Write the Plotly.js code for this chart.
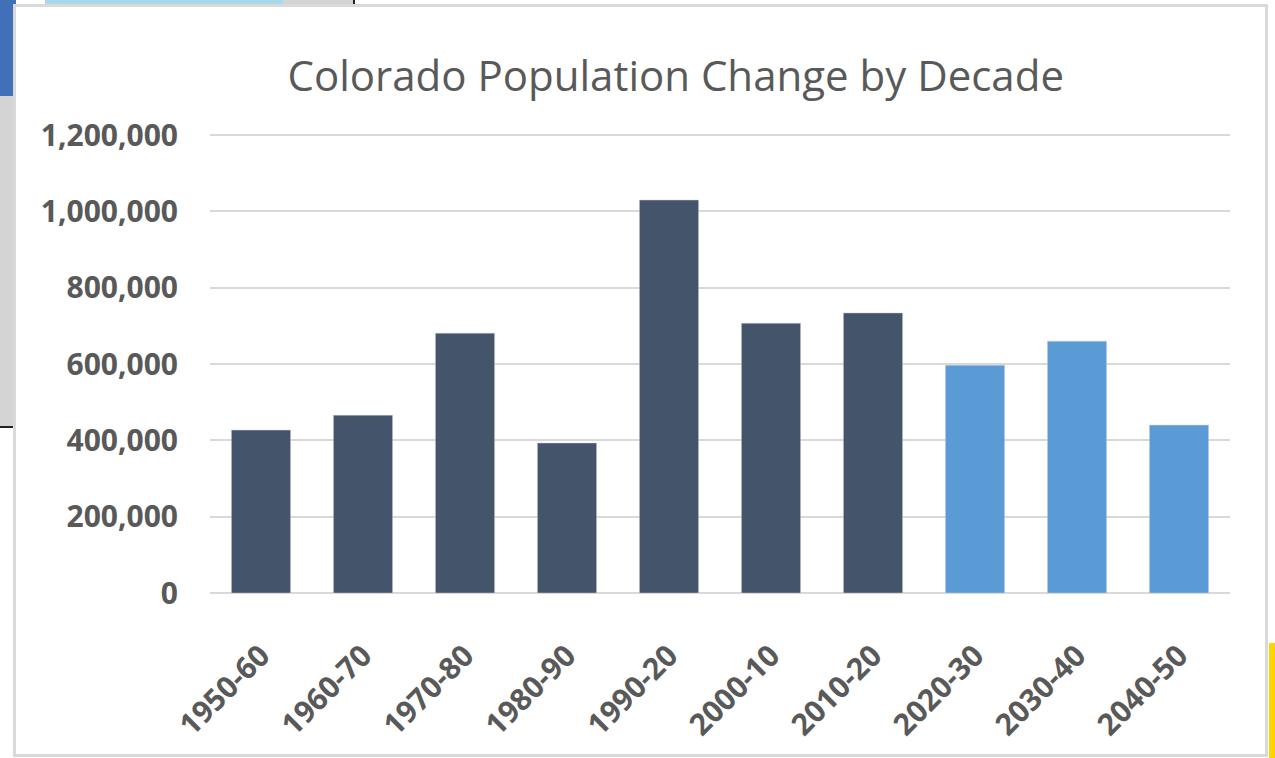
<!DOCTYPE html>
<html>
<head>
<meta charset="utf-8">
<script src="https://cdn.plot.ly/plotly-3.0.1.min.js"></script>
<style>
  html, body { margin: 0; padding: 0; width: 1275px; height: 758px; overflow: hidden; background: #ffffff; }
  .deco { position: absolute; }
  #chart { position: absolute; left: 0; top: 0; width: 1275px; height: 758px; }
</style>
</head>
<body>
<div class="deco" style="left:0;top:0;width:16px;height:96px;background:#4170b8;"></div>
<div class="deco" style="left:0;top:96px;width:16px;height:330px;background:#d4d4d4;"></div>
<div class="deco" style="left:0;top:426px;width:16px;height:2px;background:#222;"></div>
<div class="deco" style="left:45px;top:0;width:238px;height:6px;background:#a8d8ea;"></div>
<div class="deco" style="left:283px;top:0;width:70px;height:6px;background:#d4d4d4;"></div>
<div class="deco" style="left:353px;top:0;width:2px;height:6px;background:#222;"></div>
<div class="deco" style="left:1269px;top:643px;width:6px;height:115px;background:#ffd400;"></div>
<div class="deco" style="left:13px;top:4px;width:1249px;height:747px;border:3px solid #d9d9d9;background:#ffffff;"></div>
<div id="chart"></div>
<script>
const categories = ["1950-60", "1960-70", "1970-80", "1980-90", "1990-20", "2000-10", "2010-20", "2020-30", "2030-40", "2040-50"];
const popChange = [427000, 466000, 681000, 393000, 1030000, 707000, 734000, 597000, 660000, 440000];
const projected = [false, false, false, false, false, false, false, true, true, true];
const yTickVals = [0, 200000, 400000, 600000, 800000, 1000000, 1200000];
const yTickText = ["0", "200,000", "400,000", "600,000", "800,000", "1,000,000", "1,200,000"];

const colors = projected.map(p => p ? "#5b9bd5" : "#44546a");

const trace = {
  type: "bar",
  x: categories,
  y: popChange,
  marker: { color: colors, line: { color: "#c9ced6", width: 0.5 } },
  hoverinfo: "x+y"
};

const layout = {
  width: 1275,
  height: 758,
  paper_bgcolor: "rgba(0,0,0,0)",
  plot_bgcolor: "rgba(0,0,0,0)",
  margin: { l: 210, r: 45, t: 134, b: 165 },
  bargap: 0.42,
  showlegend: false,
  title: {
    text: "Colorado Population Change by Decade",
    font: { family: "Open Sans", size: 42, color: "#595959" },
    x: 0.53, xanchor: "center",
    y: 0.9, yanchor: "middle"
  },
  xaxis: {
    type: "category",
    tickangle: -45,
    tickfont: { family: "Open Sans", size: 30, color: "#595959", weight: "bold" },
    ticklabelstandoff: 38,
    showgrid: false,
    showline: false,
    zeroline: false,
    ticks: ""
  },
  yaxis: {
    range: [0, 1203000],
    tickvals: yTickVals,
    ticktext: yTickText,
    tickfont: { family: "Open Sans", size: 30, color: "#595959", weight: "bold" },
    ticklabelstandoff: 31,
    showgrid: true,
    gridcolor: "#d9d9d9",
    gridwidth: 2,
    zeroline: true,
    zerolinecolor: "#d9d9d9",
    zerolinewidth: 2,
    showline: false,
    ticks: ""
  }
};

Plotly.newPlot("chart", [trace], layout, { displayModeBar: false, staticPlot: true });
</script>
</body>
</html>
